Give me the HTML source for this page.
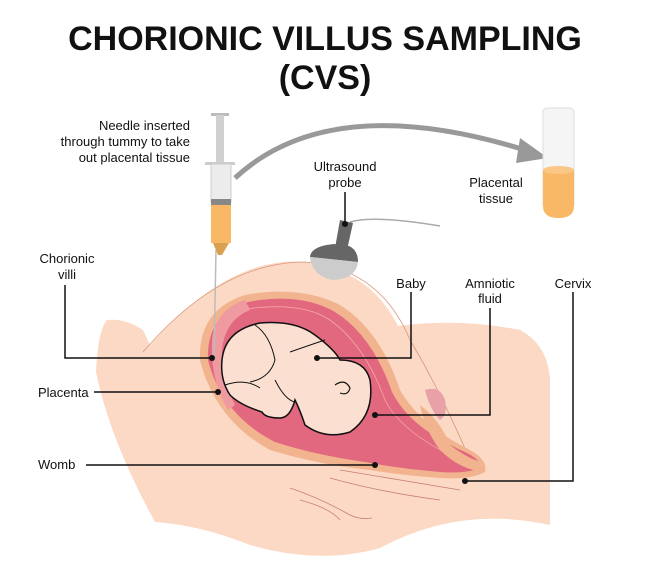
<!DOCTYPE html>
<html><head><meta charset="utf-8"><style>
html,body{margin:0;padding:0;background:#fff;width:650px;height:578px;overflow:hidden}
svg{display:block}
text{font-family:"Liberation Sans",sans-serif;fill:#111}
</style></head><body>
<svg width="650" height="578" viewBox="0 0 650 578" xmlns="http://www.w3.org/2000/svg">
<text x="325" y="50" font-size="34" font-weight="bold" text-anchor="middle">CHORIONIC VILLUS SAMPLING</text>
<text x="325" y="89" font-size="34" font-weight="bold" text-anchor="middle">(CVS)</text>

<path d="M107,320 Q125,318 143,330 L150,345 Q230,255 305,262 Q370,270 398,326 Q460,318 520,330 Q548,345 550,380 L550,525 Q460,505 380,548 Q320,565 250,545 Q200,525 155,522 Q110,440 96,372 Q98,330 107,320 Z" fill="#fbd9c4"/>
<path d="M143,352 Q220,262 305,262 Q380,268 410,340 Q440,390 470,460" fill="none" stroke="#d9957a" stroke-width="0.8"/>
<path d="M340,470 Q400,480 460,490 M330,478 Q380,492 440,500 M290,488 Q320,498 350,515 Q360,520 372,518 M300,500 Q330,508 340,520" fill="none" stroke="#c98070" stroke-width="0.8"/>

<path d="M200,360 Q198,310 245,295 Q300,285 340,305 Q380,330 400,390 Q420,425 470,450 Q488,460 485,472 Q470,480 440,478 Q400,475 370,470 Q320,465 270,450 Q215,420 200,360 Z" fill="#f2b38f"/>
<path d="M208,360 Q206,315 248,302 Q300,292 335,312 Q372,335 392,392 Q410,428 465,452 Q482,460 480,468 Q465,474 440,472 Q395,468 365,462 Q315,455 275,442 Q222,415 208,360 Z" fill="#e2687f"/>
<path d="M240,310 Q300,300 330,320 Q365,345 385,400 Q400,430 450,455" fill="none" stroke="#f4a6a6" stroke-width="0.8"/>
<path d="M212,340 Q215,310 245,300 L250,310 Q225,320 222,350 Q222,380 235,405 L228,410 Q210,380 212,340 Z" fill="#ef9aa0"/>
<path d="M420,405 Q440,420 450,445 Q470,460 482,462 L485,472 Q460,470 440,450 Q425,430 420,405 Z" fill="#f2b38f"/>
<path d="M425,390 Q440,385 445,400 Q448,415 440,420 Q430,410 425,390 Z" fill="#e8a1a6"/>

<path d="M222,360 Q225,330 260,323 Q295,320 315,335 Q335,350 340,360 Q365,360 370,380 Q375,415 350,432 Q325,440 305,425 Q300,410 295,400 Q290,418 280,418 Q265,418 262,412 Q240,405 230,395 Q220,380 222,360 Z" fill="#fbe0d2" stroke="#111" stroke-width="1.5"/>
<path d="M255,325 Q270,335 275,360 Q270,378 250,382 M290,352 Q310,345 325,340 M275,380 Q285,400 295,402 M225,385 Q245,378 260,388" fill="none" stroke="#111" stroke-width="1"/>
<path d="M335,385 Q345,378 350,388 Q348,396 340,393" fill="none" stroke="#111" stroke-width="1.2"/>

<line x1="216" y1="250" x2="214" y2="358" stroke="#bbb" stroke-width="1.5"/>
<rect x="211" y="113" width="18" height="3" fill="#bbb"/>
<rect x="216" y="115" width="8" height="50" fill="#d0d0d0"/>
<rect x="205" y="162" width="30" height="3" fill="#ccc"/>
<rect x="211" y="164" width="20" height="38" fill="#ececec" stroke="#ccc"/>
<rect x="211" y="199" width="20" height="6" fill="#888"/>
<rect x="211" y="205" width="20" height="38" fill="#f9b865"/>
<path d="M213,243 L229,243 L222,255 L218,255 Z" fill="#d9a050"/>
<path d="M235,178 Q330,90 525,150" fill="none" stroke="#999" stroke-width="5"/>
<path d="M520,138 L548,158 L516,163 Z" fill="#999"/>
<rect x="543" y="108" width="31" height="100" rx="4" fill="#f5f5f5" stroke="#ddd"/>
<path d="M543,170 L574,170 L574,206 Q574,218 558.5,218 Q543,218 543,206 Z" fill="#f9b865"/>
<ellipse cx="558.5" cy="170" rx="15.5" ry="4" fill="#fbc787"/>
<!-- probe -->
<path d="M350,222 Q375,215 440,226" fill="none" stroke="#aaa" stroke-width="1.5"/>
<polygon points="340,220 353,223 347,250 335,248" fill="#666"/>
<path d="M334,244 L349,246 Q358,250 358,262 L310,257 Q311,246 334,244 Z" fill="#666"/>
<path d="M310,257 L358,262 Q356,279 333,280 Q312,276 310,257 Z" fill="#ccc"/>

<g stroke="#111" stroke-width="1.5" fill="none">
<polyline points="65,285 65,358 212,358"/>
<line x1="94" y1="392" x2="218" y2="392"/>
<line x1="86" y1="465" x2="375" y2="465"/>
<polyline points="411,292 411,358 317,358"/>
<polyline points="490,308 490,415 375,415"/>
<polyline points="573,292 573,481 465,481"/>
<line x1="345" y1="192" x2="345" y2="224"/>
</g>
<g fill="#111">
<circle cx="212" cy="358" r="3"/><circle cx="218" cy="392" r="3"/><circle cx="375" cy="465" r="3"/>
<circle cx="317" cy="358" r="3"/><circle cx="375" cy="415" r="3"/><circle cx="465" cy="481" r="3"/><circle cx="345" cy="224" r="3"/>
</g>

<g font-size="13">
<text x="190" y="130" text-anchor="end">Needle inserted</text>
<text x="190" y="146" text-anchor="end">through tummy to take</text>
<text x="190" y="162" text-anchor="end">out placental tissue</text>
<text x="345" y="171" text-anchor="middle">Ultrasound</text>
<text x="345" y="187" text-anchor="middle">probe</text>
<text x="496" y="187" text-anchor="middle">Placental</text>
<text x="496" y="203" text-anchor="middle">tissue</text>
<text x="67" y="263" text-anchor="middle">Chorionic</text>
<text x="67" y="279" text-anchor="middle">villi</text>
<text x="38" y="397">Placenta</text>
<text x="38" y="469">Womb</text>
<text x="411" y="288" text-anchor="middle">Baby</text>
<text x="490" y="288" text-anchor="middle">Amniotic</text>
<text x="490" y="303" text-anchor="middle">fluid</text>
<text x="573" y="288" text-anchor="middle">Cervix</text>
</g>
</svg>
</body></html>
